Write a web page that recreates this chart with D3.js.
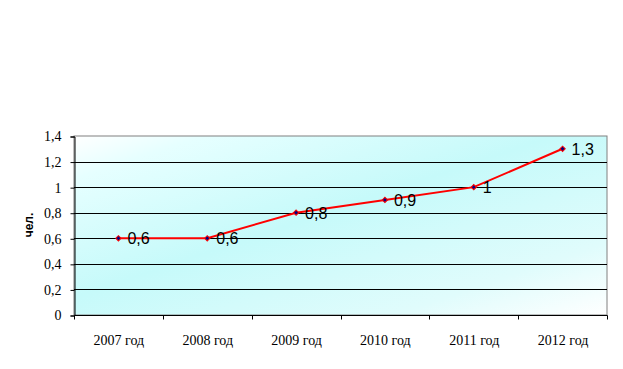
<!DOCTYPE html>
<html><head><meta charset="utf-8">
<script src="https://cdn.jsdelivr.net/npm/d3@7"></script>
<style>html,body{margin:0;padding:0;background:#fff;}</style>
</head><body>
<svg id="c" width="623" height="369"></svg>
<script>
const categories = ["2007 год","2008 год","2009 год","2010 год","2011 год","2012 год"];
const values = [0.6, 0.6, 0.8, 0.9, 1, 1.3];
const labels = ["0,6","0,6","0,8","0,9","1","1,3"];
const yTicks = [0,0.2,0.4,0.6,0.8,1,1.2,1.4];
const yTickLabels = ["0","0,2","0,4","0,6","0,8","1","1,2","1,4"];
const yTitle = "чел.";

const svg = d3.select("#c");
const m = {l:74, r:607, t:136, b:315};
const x = d3.scaleBand().domain(categories).range([m.l, m.r]).padding(0);
const y = d3.scaleLinear().domain([0,1.4]).range([m.b, m.t]);

const defs = svg.append("defs");
const g = defs.append("linearGradient").attr("id","bg").attr("x1","0").attr("y1","0").attr("x2","1").attr("y2","1");
g.append("stop").attr("offset","0").attr("stop-color","#ffffff");
g.append("stop").attr("offset","0.12").attr("stop-color","#e6ffff");
g.append("stop").attr("offset","0.45").attr("stop-color","#c6fafa");
g.append("stop").attr("offset","0.8").attr("stop-color","#e0fcfc");
g.append("stop").attr("offset","1").attr("stop-color","#ffffff");

svg.append("rect").attr("x",m.l).attr("y",m.t).attr("width",m.r-m.l).attr("height",m.b-m.t)
  .attr("fill","url(#bg)").attr("stroke","#808080").attr("stroke-width",1);

// gridlines
svg.append("g").selectAll("line").data(yTicks.filter(d=>d>0 && d<1.4)).join("line")
  .attr("x1",m.l).attr("x2",m.r).attr("y1",d=>Math.round(y(d))+0.5).attr("y2",d=>Math.round(y(d))+0.5)
  .attr("stroke","#000").attr("stroke-width",1);

// y axis
const yAxis = d3.axisLeft(y).tickValues(yTicks).tickSize(4).tickPadding(9)
  .tickFormat((d,i)=>yTickLabels[i]);
const ya = svg.append("g").attr("transform",`translate(${m.l+0.5},0.5)`).call(yAxis);
ya.select(".domain").attr("stroke","#000");
ya.selectAll(".tick line").attr("stroke","#000");
ya.selectAll("text").attr("font-family","'Liberation Serif', 'Times New Roman', serif").attr("font-size","14px").attr("fill","#000");

// x axis
const xb = d3.scaleLinear().domain([0,categories.length]).range([m.l,m.r]);
const xa = svg.append("g").attr("transform",`translate(0.5,${m.b+0.5})`);
xa.append("line").attr("x1",m.l).attr("x2",m.r).attr("stroke","#000");
xa.selectAll(".tk").data(d3.range(categories.length+1)).join("line")
  .attr("x1",d=>Math.round(xb(d))).attr("x2",d=>Math.round(xb(d))).attr("y1",0).attr("y2",4).attr("stroke","#000");
xa.selectAll("text").data(categories).join("text")
  .attr("x",d=>x(d)+x.bandwidth()/2).attr("y",29).attr("text-anchor","middle")
  .attr("font-family","'Liberation Serif', 'Times New Roman', serif").attr("font-size","14px").attr("fill","#000")
  .text(d=>d);

// y title
svg.append("text").attr("transform",`translate(33,225) rotate(-90)`).attr("text-anchor","middle")
  .attr("font-family","'Liberation Sans', Arial, sans-serif").attr("font-weight","bold").attr("font-size","12px").text(yTitle);

// line
const line = d3.line().x((d,i)=>x(categories[i])+x.bandwidth()/2).y(d=>y(d));
svg.append("path").datum(values).attr("d",line).attr("fill","none").attr("stroke","#ff0000").attr("stroke-width",2);

// markers (square rotated 45deg)
const sym = d3.symbol().type(d3.symbolSquare).size(14);
svg.append("g").selectAll("path").data(values).join("path")
  .attr("transform",(d,i)=>`translate(${x(categories[i])+x.bandwidth()/2},${y(d)}) rotate(45)`)
  .attr("d",sym).attr("fill","#000080").attr("stroke","#ff0000").attr("stroke-width",1);

// data labels
svg.append("g").selectAll("text").data(values).join("text")
  .attr("x",(d,i)=>x(categories[i])+x.bandwidth()/2+9).attr("y",d=>y(d)+6)
  .attr("font-family","'Liberation Sans', Arial, sans-serif").attr("font-size","16px").attr("fill","#000")
  .text((d,i)=>labels[i]);
</script>
</body></html>
